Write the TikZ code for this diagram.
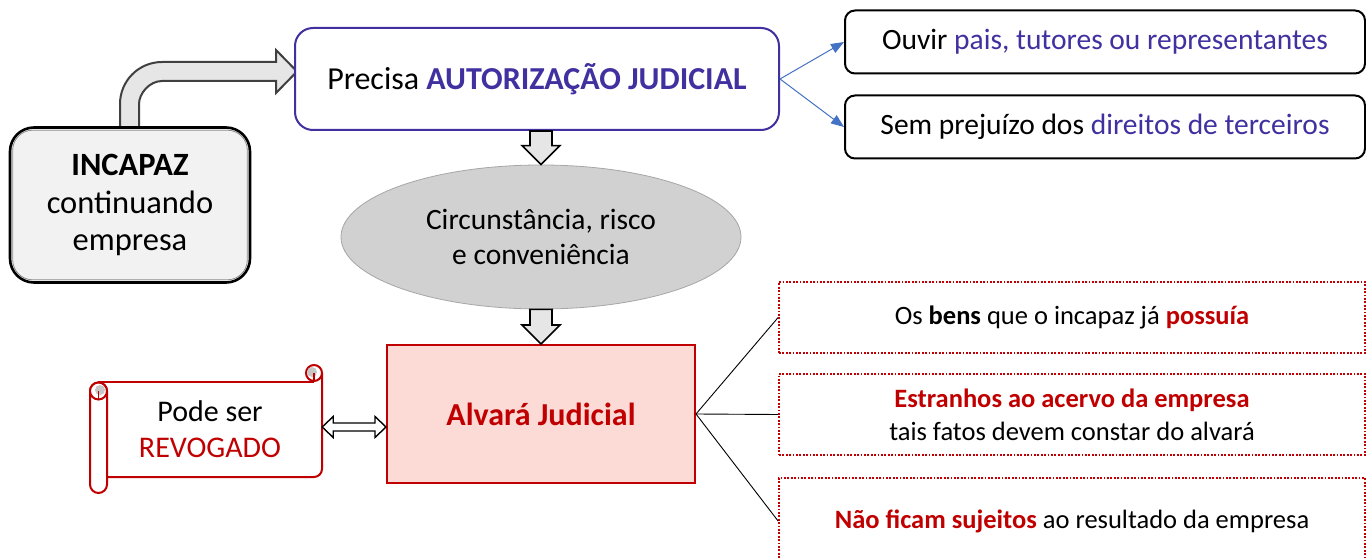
\documentclass[tikz,border=0pt]{standalone}
\usepackage{fontspec}
\setmainfont{Carlito}
\usetikzlibrary{shapes.geometric,calc,arrows.meta}
\definecolor{purp}{RGB}{64,48,160}
\definecolor{dred}{RGB}{192,0,0}
\definecolor{blu}{RGB}{68,114,196}
\definecolor{pinkf}{RGB}{252,218,214}
\definecolor{garrow}{RGB}{230,230,230}
\definecolor{incfill}{RGB}{242,242,242}
\definecolor{darkg}{RGB}{64,64,64}
\begin{document}
\begin{tikzpicture}[x=1pt,y=-1pt,
  rbox/.style={draw=black, line width=2pt, rounded corners=10, minimum width=520, minimum height=63, fill=white, inner sep=0, font=\fontsize{29.5}{34}\selectfont},
  dbox/.style={draw=dred, line width=1.8pt, dash pattern=on 1.8pt off 1.6pt, minimum width=586, inner sep=0, align=center, font=\fontsize{26.5}{33}\selectfont},
  blockarrow/.style={draw=black, line width=1.6pt, fill=garrow, line join=miter},
  dblarrow/.style={draw=black, line width=1.4pt, fill=white, line join=miter},
  blink/.style={draw=blu, line width=1pt, -{Triangle[length=13pt,width=10pt]}},
  klink/.style={draw=black, line width=0.9pt}
]
\useasboundingbox (0,0) rectangle (1366,559);

% bent block arrow
\draw[darkg, line width=2pt, fill=garrow, line join=miter]
  (120,128) -- (120,104) .. controls (120,80.8) and (138.8,62) .. (162,62)
  -- (276,62) -- (276,50) -- (297,71.5) -- (276,93) -- (276,81) -- (162,81)
  .. controls (149.3,81) and (139,93.7) .. (139,104) -- (139,128) -- cycle;

% INCAPAZ
\node[draw=black, line width=2.6pt, fill=incfill, rounded corners=24, minimum width=240, minimum height=155, inner sep=0, align=center, font=\fontsize{32.5}{37.5}\selectfont] (incapaz) at (130,205) {\textbf{INCAPAZ}\\continuando\\empresa};
\draw[black!45, line width=0.8pt, rounded corners=20] ($(incapaz.north west)+(4,4)$) rectangle ($(incapaz.south east)+(-4,-4)$);

% Precisa
\node[draw=purp, line width=2pt, rounded corners=18, minimum width=484, minimum height=102, fill=white, inner sep=0, font=\fontsize{32}{38}\selectfont] (precisa) at (537,79) {Precisa \textcolor{purp}{\textbf{AUTORIZAÇÃO JUDICIAL}}};

% right boxes
\node[rbox] (ouvir) at (1105,42) {Ouvir \textcolor{purp}{pais, tutores ou representantes}};
\node[rbox] (sem) at (1105,127) {Sem prejuízo dos \textcolor{purp}{direitos de terceiros}};
\draw[blink] (precisa.east) -- (ouvir.west);
\draw[blink] (precisa.east) -- (sem.west);

% ellipse
\node[ellipse, draw=black!35, line width=0.8pt, fill=black!18, minimum width=400, minimum height=144, inner sep=0, align=center, font=\fontsize{29.5}{35}\selectfont] (circ) at (541,237) {Circunstância, risco\\e conveniência};

% Alvara
\node[draw=dred, line width=2pt, fill=pinkf, minimum width=308, minimum height=138, inner sep=0, font=\fontsize{32}{38}\selectfont\bfseries, text=dred] (alvara) at (541,414) {Alvará Judicial};

% down block arrows
\coordinate (d1a) at (circ.north |- precisa.south);
\coordinate (d1b) at (circ.north);
\draw[blockarrow] ($(d1a)+(-11,0)$) -- ($(d1b)+(-11,-19)$) -- ($(d1b)+(-19,-19)$) -- (d1b)
  -- ($(d1b)+(19,-19)$) -- ($(d1b)+(11,-19)$) -- ($(d1a)+(11,0)$) -- cycle;
\coordinate (d2a) at (circ.south);
\coordinate (d2b) at (alvara.north);
\draw[blockarrow] ($(d2a)+(-11,0)$) -- ($(d2b)+(-11,-19)$) -- ($(d2b)+(-19,-19)$) -- (d2b)
  -- ($(d2b)+(19,-19)$) -- ($(d2b)+(11,-19)$) -- ($(d2a)+(11,0)$) -- cycle;

% scroll
\fill[white] (98,382) rectangle (322,477);
\draw[dred, line width=2pt] (98,382) -- (314,382);
\draw[dred, line width=2pt, rounded corners=8] (322,373) -- (322,477) -- (107,477);
\draw[dred, line width=2pt, fill=white, rounded corners=8.5] (90,382.5) rectangle (107,493);
\draw[dred, line width=2pt, fill=white] (314,373) circle (8);
\fill[black!22] (312,372) circle (5);
\draw[dred, line width=1.6pt] (314,373) -- (314,382);
\draw[dred, line width=2pt, fill=white] (98.5,391) circle (8.5);
\fill[black!22] (100,390) circle (5);
\draw[dred, line width=1.6pt] (98.5,391) -- (98.5,399);
\node[minimum width=224, minimum height=95, inner sep=0, align=center, font=\fontsize{30}{36}\selectfont] (scroll) at (210,429.5) {Pode ser\\\textcolor{dred}{REVOGADO}};

% double arrow
\coordinate (dl) at ($(scroll.east)+(0,-2.5)$);
\coordinate (dr) at (dl -| alvara.west);
\draw[dblarrow] (dl) -- ($(dl)+(11,-10.5)$) -- ($(dl)+(11,-4)$) -- ($(dr)+(-11,-4)$) -- ($(dr)+(-11,-10.5)$) -- (dr)
  -- ($(dr)+(-11,10.5)$) -- ($(dr)+(-11,4)$) -- ($(dl)+(11,4)$) -- ($(dl)+(11,10.5)$) -- cycle;

% dotted boxes
\node[dbox, minimum height=71] (b1) at (1072,317.5) {Os \textbf{bens} que o incapaz já \textcolor{dred}{\textbf{possuía}}};
\node[dbox, minimum height=81] (b2) at (1072,414.5) {\textcolor{dred}{\textbf{Estranhos ao acervo da empresa}}\\tais fatos devem constar do alvará};
\node[dbox, minimum height=86] (b3) at (1072,521) {\textcolor{dred}{\textbf{Não ficam sujeitos}} ao resultado da empresa};
\draw[klink] (alvara.east) -- (b1.west);
\draw[klink] (alvara.east) -- (b2.west);
\draw[klink] (alvara.east) -- (b3.west);
\end{tikzpicture}
\end{document}
